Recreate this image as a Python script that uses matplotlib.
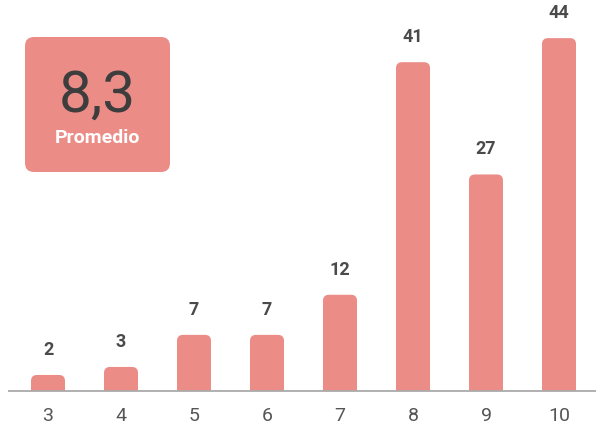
import matplotlib
matplotlib.use("Agg")
import matplotlib.pyplot as plt
from matplotlib.patches import FancyBboxPatch, Rectangle

categories = ["3", "4", "5", "6", "7", "8", "9", "10"]
values = [2, 3, 7, 7, 12, 41, 27, 44]
average_label = "8,3"
average_caption = "Promedio"

BAR_COLOR = "#EB8C87"
TEXT_DARK = "#4a4a4a"

W, H, DPI = 598, 424, 100
fig = plt.figure(figsize=(W / DPI, H / DPI), dpi=DPI)
ax = fig.add_axes([0, 0, 1, 1])
ax.set_axis_off()

# pixel geometry mapping
x0_px, step_px = 48, 73
base_px, unit_px = 391, 8.02
ax.set_xlim(-x0_px / step_px, (W - x0_px) / step_px)
ax.set_ylim(-(H - base_px) / unit_px, base_px / unit_px)

plt.rcParams['font.family'] = ['Roboto', 'DejaVu Sans']

bar_w = 34 / step_px
r_px = 6
rx = r_px / step_px
aspect = step_px / unit_px

for i, (c, v) in enumerate(zip(categories, values)):
    left = i - bar_w / 2
    p = FancyBboxPatch((left, 0), bar_w, v,
                       boxstyle=f"round,pad=0,rounding_size={rx}",
                       mutation_aspect=aspect, facecolor=BAR_COLOR,
                       edgecolor="none", zorder=2)
    ax.add_patch(p)
    ax.add_patch(Rectangle((left, 0), bar_w, min(v / 2, 1.5),
                           facecolor=BAR_COLOR, edgecolor="none", zorder=2))
    ax.text(i, v + 20 / unit_px, str(v), ha="center", va="baseline",
            fontsize=13, fontweight="bold", color=TEXT_DARK)
    ax.text(i, -30 / unit_px, c, ha="center", va="baseline",
            fontsize=14, color="#555555")

ax.hlines(0, -40 / step_px, (596 - x0_px) / step_px, color="#aaaaaa",
          linewidth=1.3, zorder=3)

# average box (in figure pixel coords)
box = FancyBboxPatch((25 / W, 1 - 172 / H), 145 / W, 135 / H,
                     boxstyle=f"round,pad=0,rounding_size={9 / W}",
                     mutation_aspect=W / H, transform=fig.transFigure,
                     facecolor=BAR_COLOR, edgecolor="none", zorder=5)
fig.patches.append(box)
fig.text(97 / W, 1 - 112 / H, average_label, ha="center", va="baseline",
         fontsize=42, color="#3d3d3d", zorder=6)
fig.text(97 / W, 1 - 143 / H, average_caption, ha="center", va="baseline",
         fontsize=14, fontweight="bold", color="white", zorder=6)

fig.savefig("out.png", dpi=DPI)
